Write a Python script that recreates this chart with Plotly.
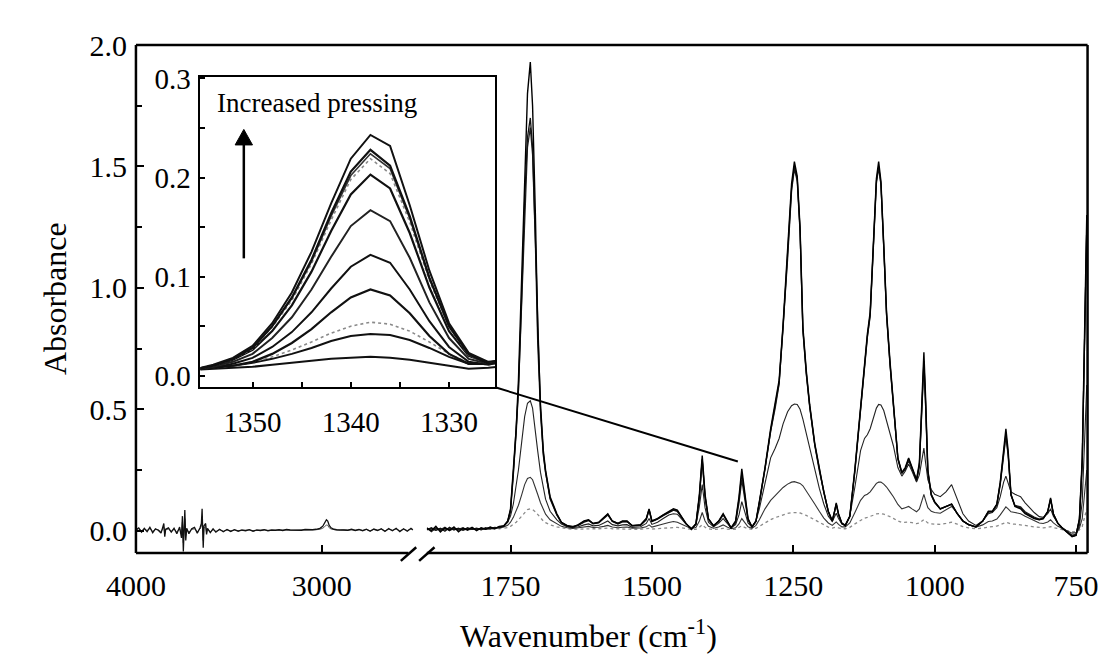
import plotly.graph_objects as go

# ---------------- data ----------------
# left segment of the broken axis (4000 - 2500 cm-1)
WN_L = [4000, 3985, 3970, 3955, 3940, 3925, 3910, 3895, 3880, 3865,
        3850, 3845, 3840, 3825, 3810, 3795, 3780, 3765, 3755, 3750,
        3745, 3737, 3732, 3727, 3715, 3700, 3685, 3670, 3655, 3648,
        3644, 3638, 3634, 3625, 3620, 3615, 3600, 3585, 3570, 3550,
        3530, 3510, 3490, 3470, 3450, 3430, 3410, 3390, 3370, 3350,
        3330, 3310, 3290, 3270, 3250, 3230, 3210, 3190, 3170, 3150,
        3130, 3110, 3090, 3070, 3050, 3030, 3010, 2995, 2985, 2975,
        2968, 2960, 2950, 2935, 2920, 2900, 2880, 2860, 2840, 2820,
        2800, 2780, 2760, 2740, 2720, 2700, 2680, 2660, 2640, 2620,
        2600, 2580, 2560, 2540, 2520, 2510]
LEFT_A = [.004, .012, -.006, .010, -.004, .014, -.008, .008, .002, -.010,
          .030, -.025, .006, .012, -.006, .010, -.012, .015, -.030, .060,
          -.085, .085, -.040, .010, -.012, .008, .014, -.010, .012, .030,
          .090, -.070, .020, .030, -.015, .010, -.008, .008, -.006, .006,
          -.004, .005, -.003, .004, -.002, .003, .000, .004, -.002, .003,
          .001, .004, .000, .003, .002, .004, .001, .005, .003, .002,
          .004, .002, .005, .003, .004, .006, .010, .018, .030, .045,
          .040, .022, .012, .006, .004, .003, .005, .002, .006, .001,
          .005, .000, .006, -.002, .007, .001, .008, -.003, .009, .000,
          .010, -.004, .008, -.002, .010, .004]
LEFT_B = [.002, .008, .000, .006, .001, .009, -.003, .005, .004, -.004,
          .015, -.012, .004, .007, -.002, .006, -.005, .008, -.015, .035,
          -.050, .050, -.020, .006, -.006, .005, .008, -.004, .007, .018,
          .055, -.040, .012, .018, -.008, .006, -.004, .005, -.003, .004,
          -.002, .003, -.001, .003, .000, .002, .001, .003, .000, .002,
          .002, .003, .001, .002, .002, .003, .002, .003, .002, .002,
          .003, .002, .004, .003, .003, .004, .006, .010, .016, .024,
          .022, .012, .007, .004, .003, .002, .004, .002, .004, .002,
          .004, .001, .005, .000, .005, .002, .006, .000, .006, .002,
          .007, .000, .006, .001, .007, .003]

# right segment (1900 - 730 cm-1)
WN_R = [1898, 1890, 1882, 1874, 1866, 1858, 1850, 1842, 1834, 1826,
        1818, 1810, 1802, 1794, 1786, 1778, 1770, 1762, 1755, 1750,
        1745, 1740, 1736, 1730, 1725, 1720, 1715, 1711, 1706, 1702,
        1697, 1692, 1688, 1680, 1668, 1660, 1650, 1640, 1630, 1620,
        1612, 1604, 1594, 1585, 1578, 1570, 1560, 1552, 1544, 1535,
        1520, 1510, 1505, 1500, 1490, 1480, 1470, 1462, 1455, 1448,
        1440, 1430, 1422, 1416, 1411, 1406, 1400, 1391, 1382, 1374,
        1367, 1360, 1352, 1346, 1341, 1336, 1330, 1323, 1316, 1310,
        1304, 1300, 1290, 1282, 1275, 1268, 1260, 1253, 1248, 1243,
        1238, 1233, 1227, 1221, 1212, 1204, 1196, 1188, 1181, 1177,
        1174, 1170, 1164, 1158, 1150, 1141, 1131, 1124, 1119, 1114,
        1108, 1103, 1099, 1095, 1090, 1085, 1079, 1073, 1065, 1058,
        1052, 1046, 1040, 1032, 1027, 1022, 1019, 1016, 1012, 1006,
        1000, 990, 980, 970, 960, 950, 940, 927, 915, 905,
        898, 890, 884, 878, 874, 870, 865, 858, 848, 840,
        832, 824, 815, 808, 800, 795, 790, 782, 774, 765,
        757, 750, 744, 739, 735, 731]
H1 = [.010, .000, .018, -.005, .012, .002, .016, -.004, .010, .004,
      .014, .000, .012, .006, .015, .008, .018, .020, .040, .090,
      .255, .42, .62, 1.05, 1.45, 1.80, 1.93, 1.75, 1.30, .84,
      .52, .33, .25, .14, .07, .035, .020, .015, .025, .040,
      .045, .030, .035, .055, .070, .040, .030, .040, .040, .020,
      .025, .050, .090, .040, .050, .065, .080, .090, .085, .060,
      .030, .005, .030, .150, .310, .150, .050, .020, .040, .070,
      .040, .012, .040, .140, .255, .150, .050, .015, .040, .120,
      .200, .260, .420, .520, .620, .850, 1.150, 1.430, 1.520, 1.460,
      1.250, .840, .660, .520, .360, .255, .160, .080, .040, .080,
      .115, .070, .030, .020, .060, .255, .520, .700, .810, .900,
      1.200, 1.450, 1.520, 1.440, 1.180, .900, .700, .520, .300, .240,
      .260, .300, .260, .210, .280, .550, .735, .550, .250, .150,
      .120, .090, .100, .110, .070, .040, .025, .015, .040, .080,
      .080, .110, .200, .340, .420, .330, .150, .100, .090, .070,
      .060, .050, .045, .050, .080, .135, .070, .030, .010, -.010,
      -.025, -.020, .050, .300, .800, 1.300]
H2 = [.004, .012, .002, .010, -.002, .014, .004, .010, .002, .012,
      .006, .010, .004, .012, .008, .014, .012, .018, .036, .080,
      .230, .40, .58, .98, 1.36, 1.62, 1.70, 1.58, 1.20, .80,
      .50, .32, .24, .135, .065, .035, .022, .018, .022, .035,
      .042, .028, .032, .050, .065, .038, .028, .036, .038, .020,
      .022, .045, .085, .038, .048, .062, .076, .085, .080, .058,
      .030, .008, .028, .140, .295, .140, .048, .020, .038, .066,
      .038, .012, .036, .130, .235, .140, .048, .016, .038, .115,
      .195, .255, .410, .510, .610, .835, 1.130, 1.410, 1.500, 1.450,
      1.240, .830, .650, .515, .355, .250, .158, .078, .040, .078,
      .110, .068, .030, .022, .058, .250, .510, .690, .800, .890,
      1.190, 1.440, 1.500, 1.430, 1.170, .890, .690, .515, .298, .238,
      .255, .295, .255, .208, .270, .520, .700, .525, .245, .148,
      .118, .090, .100, .110, .070, .040, .025, .016, .040, .078,
      .078, .108, .195, .325, .400, .315, .148, .102, .094, .074,
      .062, .052, .046, .050, .078, .130, .068, .030, .010, -.008,
      -.022, -.018, .045, .280, .760, 1.250]
H3 = [.012, -.004, .010, .004, .014, .000, .010, .006, .012, .002,
      .012, .004, .010, .008, .014, .010, .016, .020, .038, .085,
      .240, .40, .58, .97, 1.33, 1.58, 1.66, 1.55, 1.18, .78,
      .49, .31, .24, .13, .065, .033, .018, .014, .024, .038,
      .044, .030, .034, .052, .068, .040, .030, .038, .038, .022,
      .024, .048, .088, .040, .050, .064, .078, .086, .082, .058,
      .030, .006, .028, .140, .290, .140, .048, .020, .038, .066,
      .038, .012, .032, .115, .210, .125, .044, .016, .038, .115,
      .195, .255, .410, .505, .605, .830, 1.120, 1.400, 1.490, 1.440,
      1.230, .825, .645, .510, .352, .248, .156, .078, .040, .076,
      .108, .066, .030, .022, .058, .245, .505, .685, .795, .885,
      1.180, 1.430, 1.495, 1.425, 1.165, .885, .685, .510, .295, .235,
      .252, .290, .252, .205, .265, .510, .690, .515, .240, .146,
      .116, .090, .100, .108, .070, .040, .025, .016, .040, .078,
      .078, .106, .190, .320, .390, .310, .146, .104, .098, .078,
      .066, .056, .048, .052, .078, .128, .068, .030, .010, -.008,
      -.022, -.018, .045, .280, .760, 1.250]
MID = [.008, .003, .012, .000, .010, .004, .012, .002, .009, .004,
       .010, .005, .010, .006, .011, .009, .014, .020, .035, .060,
       .110, .180, .250, .370, .470, .525, .535, .505, .420, .330,
       .240, .170, .130, .080, .045, .028, .016, .012, .016, .024,
       .028, .020, .022, .032, .040, .025, .020, .024, .025, .014,
       .016, .030, .050, .026, .035, .050, .065, .070, .068, .050,
       .028, .010, .025, .100, .190, .095, .035, .016, .030, .050,
       .030, .012, .025, .065, .120, .075, .032, .015, .040, .090,
       .150, .200, .300, .340, .380, .440, .490, .515, .522, .520,
       .500, .460, .400, .340, .250, .175, .110, .060, .038, .058,
       .072, .050, .028, .025, .060, .180, .330, .380, .395, .420,
       .470, .505, .520, .518, .495, .455, .400, .350, .260, .225,
       .245, .275, .245, .200, .230, .300, .340, .280, .210, .170,
       .150, .140, .160, .190, .130, .070, .040, .022, .040, .070,
       .075, .095, .140, .200, .225, .200, .160, .150, .140, .115,
       .095, .075, .058, .055, .070, .090, .060, .030, .012, -.005,
       -.018, -.015, .020, .120, .350, .600]
LOW = [.006, .010, .002, .008, .004, .010, .003, .008, .004, .009,
       .005, .008, .006, .009, .007, .010, .012, .015, .022, .035,
       .055, .080, .105, .150, .190, .215, .220, .210, .180, .150,
       .115, .085, .068, .045, .028, .018, .012, .009, .012, .016,
       .018, .013, .014, .018, .022, .015, .012, .014, .015, .010,
       .011, .016, .024, .015, .020, .028, .034, .038, .035, .028,
       .018, .008, .014, .040, .075, .040, .018, .010, .015, .024,
       .015, .008, .012, .028, .050, .032, .016, .010, .022, .045,
       .070, .090, .125, .145, .160, .178, .192, .200, .202, .200,
       .195, .185, .165, .145, .110, .080, .052, .032, .022, .030,
       .036, .026, .016, .016, .032, .075, .125, .145, .150, .160,
       .180, .195, .200, .200, .192, .180, .160, .140, .108, .090,
       .095, .100, .090, .078, .090, .125, .150, .125, .095, .080,
       .075, .072, .085, .100, .072, .040, .025, .015, .024, .038,
       .040, .048, .065, .088, .098, .090, .078, .075, .070, .060,
       .050, .040, .032, .030, .036, .045, .032, .018, .008, .000,
       -.010, -.008, .010, .050, .140, .250]
GRAY = [.004, .006, .003, .005, .002, .006, .004, .003, .005, .004,
        .006, .004, .005, .006, .005, .007, .008, .010, .013, .018,
        .025, .035, .045, .062, .077, .087, .090, .087, .078, .066,
        .052, .040, .033, .024, .016, .012, .008, .006, .007, .009,
        .010, .008, .008, .010, .011, .008, .007, .008, .008, .006,
        .006, .008, .010, .007, .009, .012, .014, .015, .014, .012,
        .009, .005, .006, .014, .025, .014, .008, .005, .007, .010,
        .007, .005, .006, .012, .020, .014, .008, .006, .010, .018,
        .027, .034, .046, .054, .060, .066, .071, .074, .075, .075,
        .073, .069, .063, .056, .045, .035, .024, .015, .011, .013,
        .015, .012, .008, .008, .014, .028, .044, .052, .055, .058,
        .064, .069, .071, .071, .068, .064, .058, .051, .040, .034,
        .035, .036, .033, .029, .032, .040, .046, .040, .032, .028,
        .027, .026, .030, .035, .027, .017, .012, .008, .011, .016,
        .017, .019, .024, .031, .034, .032, .028, .027, .025, .022,
        .019, .016, .013, .012, .014, .017, .013, .008, .004, .000,
        -.005, -.004, .003, .018, .050, .090]

# inset: zoom on the 1340 cm-1 band
WN_IN = [1356, 1354, 1352, 1350, 1348, 1346, 1344, 1342, 1340, 1338,
         1336, 1334, 1332, 1330, 1328, 1326, 1324]
IN_C1 = [.006, .011, .018, .030, .053, .084, .125, .174, .219, .243, .232, .172, .106, .053, .023, .014, .016]
IN_C2 = [.006, .010, .017, .028, .050, .079, .117, .164, .206, .228, .212, .161, .099, .050, .022, .012, .014]
IN_C3 = [.006, .010, .017, .028, .050, .078, .115, .161, .202, .224, .209, .159, .098, .050, .021, .012, .015]
IN_C4 = [.006, .010, .017, .027, .049, .076, .113, .157, .198, .219, .204, .155, .096, .049, .021, .012, .016]
IN_C5 = [.006, .010, .016, .026, .045, .071, .105, .146, .183, .203, .189, .144, .089, .045, .020, .013, .018]
IN_C6 = [.006, .009, .014, .022, .038, .059, .087, .120, .151, .167, .156, .119, .074, .038, .017, .012, .017]
IN_C7 = [.006, .008, .012, .018, .029, .044, .064, .088, .110, .122, .114, .087, .055, .029, .014, .011, .016]
IN_C8 = [.006, .008, .010, .014, .022, .033, .047, .064, .079, .087, .081, .063, .040, .022, .012, .012, .018]
IN_C9 = [.006, .008, .010, .014, .019, .026, .034, .043, .050, .054, .052, .045, .034, .022, .013, .011, .014]
IN_C10 = [.006, .008, .010, .013, .017, .022, .028, .035, .040, .042, .041, .036, .028, .019, .012, .012, .016]
IN_C11 = [.006, .007, .008, .009, .011, .013, .015, .017, .018, .019, .018, .016, .013, .010, .007, .008, .010]

MAIN_Y_TICKS = [0, 0.5, 1.0, 1.5, 2.0]
LEFT_X_TICKS = [4000, 3000]
RIGHT_X_TICKS = [1750, 1500, 1250, 1000, 750]
INSET_X_TICKS = [1350, 1340, 1330]
INSET_Y_TICKS = [0.0, 0.1, 0.2, 0.3]
LINK_TARGET = (1348, 0.285)   # point on the main spectrum the inset refers to

# ---------------- layout geometry (pixels) ----------------
W, H = 1113, 654
BOX_L, BOX_R, BOX_T, BOX_B = 110, 1098, 30, 554
LEFT_END, RIGHT_START = 400, 412
IN_L, IN_R, IN_T, IN_B = 177, 483, 63, 383
X1_RANGE = [4000, 2497]
X2_RANGE = [1898, 729.6]
Y_RANGE = [-0.092, 2.0]
X3_RANGE = [1355.3, 1325.3]
Y3_RANGE = [-0.0117, 0.3014]

FONT = "Liberation Serif"


def fx(px):
    return px / W


def fy(py):
    return 1 - py / H


def x2_to_px(wn):
    return RIGHT_START + (X2_RANGE[0] - wn) / (X2_RANGE[0] - X2_RANGE[1]) * (BOX_R - RIGHT_START)


def y_to_px(v):
    return BOX_B - (v - Y_RANGE[0]) / (Y_RANGE[1] - Y_RANGE[0]) * (BOX_B - BOX_T)


fig = go.Figure()

# left segment traces
fig.add_trace(go.Scatter(x=WN_L, y=LEFT_B, xaxis="x", yaxis="y", mode="lines",
                         line=dict(color="#555", width=1), hoverinfo="skip", showlegend=False))
fig.add_trace(go.Scatter(x=WN_L, y=LEFT_A, xaxis="x", yaxis="y", mode="lines",
                         line=dict(color="#111", width=1.3), hoverinfo="skip", showlegend=False))

# right segment traces
right_specs = [
    (GRAY, "#8a8a8a", 1.3, "dot"),
    (LOW, "#333", 1.1, "solid"),
    (MID, "#222", 1.1, "solid"),
    (H3, "#222", 1.3, "solid"),
    (H2, "#111", 1.3, "solid"),
    (H1, "#000", 1.4, "solid"),
]
for vals, col, w, dash in right_specs:
    fig.add_trace(go.Scatter(x=WN_R, y=vals, xaxis="x2", yaxis="y", mode="lines",
                             line=dict(color=col, width=w, dash=dash),
                             hoverinfo="skip", showlegend=False))

# inset traces
inset_specs = [
    (IN_C11, "#111", 2.0, "solid"),
    (IN_C10, "#111", 2.0, "solid"),
    (IN_C9, "#8a8a8a", 1.6, "dot"),
    (IN_C8, "#111", 2.2, "solid"),
    (IN_C7, "#111", 2.0, "solid"),
    (IN_C6, "#222", 2.0, "solid"),
    (IN_C5, "#111", 2.2, "solid"),
    (IN_C4, "#8a8a8a", 1.6, "dot"),
    (IN_C3, "#333", 1.6, "solid"),
    (IN_C2, "#111", 2.2, "solid"),
    (IN_C1, "#111", 2.0, "solid"),
]
for vals, col, w, dash in inset_specs:
    fig.add_trace(go.Scatter(x=WN_IN, y=vals, xaxis="x3", yaxis="y3", mode="lines",
                             line=dict(color=col, width=w, dash=dash),
                             hoverinfo="skip", showlegend=False))

tickfont = dict(family=FONT, size=30, color="black")
inset_font = dict(family=FONT, size=29, color="black")

common_x = dict(showgrid=False, zeroline=False, showline=False, ticks="inside",
                ticklen=8, tickwidth=2, tickcolor="black", tickfont=tickfont,
                ticklabelstandoff=12)

fig.update_layout(
    width=W, height=H,
    margin=dict(l=0, r=0, t=0, b=0),
    paper_bgcolor="white", plot_bgcolor="rgba(0,0,0,0)",
    font=dict(family=FONT, color="black"),
    xaxis=dict(domain=[fx(BOX_L), fx(LEFT_END)], range=X1_RANGE, anchor="y",
               tickvals=LEFT_X_TICKS, ticktext=[str(t) for t in LEFT_X_TICKS], **common_x),
    xaxis2=dict(domain=[fx(RIGHT_START), fx(BOX_R)], range=X2_RANGE, anchor="y",
                tickvals=RIGHT_X_TICKS, ticktext=[str(t) for t in RIGHT_X_TICKS], **common_x),
    yaxis=dict(domain=[fy(BOX_B), fy(BOX_T)], range=Y_RANGE, anchor="x",
               showgrid=False, zeroline=False, showline=False,
               tickvals=MAIN_Y_TICKS, ticktext=[f"{t:.1f}" for t in MAIN_Y_TICKS],
               ticks="inside", ticklen=8, tickwidth=2, tickcolor="black",
               tickfont=tickfont, ticklabelstandoff=8,
               minor=dict(tickvals=[0.25, 0.75, 1.25, 1.75], ticks="inside",
                          ticklen=6, tickwidth=2, tickcolor="black")),
    xaxis3=dict(domain=[fx(IN_L), fx(IN_R)], range=X3_RANGE, anchor="y3",
                showgrid=False, zeroline=False, showline=True, mirror=True,
                linewidth=2, linecolor="black",
                tickvals=INSET_X_TICKS, ticktext=[str(t) for t in INSET_X_TICKS],
                ticks="inside", ticklen=5, tickwidth=1.5, tickcolor="black",
                tickfont=inset_font, ticklabelstandoff=8,
                minor=dict(tickvals=[1345, 1335], ticks="inside", ticklen=5,
                           tickwidth=1.5, tickcolor="black")),
    yaxis3=dict(domain=[fy(IN_B), fy(IN_T)], range=Y3_RANGE, anchor="x3",
                showgrid=False, zeroline=False, showline=True, mirror=True,
                linewidth=2, linecolor="black",
                tickvals=INSET_Y_TICKS, ticktext=[f"{t:.1f}" for t in INSET_Y_TICKS],
                ticks="inside", ticklen=5, tickwidth=1.5, tickcolor="black",
                tickfont=inset_font, ticklabelstandoff=2,
                minor=dict(tickvals=[0.05, 0.15, 0.25], ticks="inside", ticklen=5,
                           tickwidth=1.5, tickcolor="black")),
)

# frame of the main plot with the axis break
LW = 2.5
frame = [
    (BOX_L, BOX_T, BOX_R, BOX_T),
    (BOX_L, BOX_T, BOX_L, BOX_B),
    (BOX_R, BOX_T, BOX_R, BOX_B),
    (BOX_L, BOX_B, 393, BOX_B),
    (412, BOX_B, BOX_R, BOX_B),
    (385, 562, 401, 548),
    (404, 562, 420, 548),
]
shapes = []
for x0, y0, x1, y1 in frame:
    shapes.append(dict(type="line", xref="paper", yref="paper",
                       x0=fx(x0), y0=fy(y0), x1=fx(x1), y1=fy(y1),
                       line=dict(color="black", width=LW), layer="above"))
# connector from inset corner to the 1340 band
shapes.append(dict(type="line", xref="paper", yref="paper",
                   x0=fx(IN_R), y0=fy(IN_B),
                   x1=fx(x2_to_px(LINK_TARGET[0])), y1=fy(y_to_px(LINK_TARGET[1])),
                   line=dict(color="black", width=2), layer="above"))
# "increased pressing" arrow: shaft + filled head
ARROW_X, ARROW_TIP, ARROW_TAIL, HEAD_W, HEAD_H = 222, 117, 250, 9, 16
shapes.append(dict(type="line", xref="paper", yref="paper",
                   x0=fx(ARROW_X), y0=fy(ARROW_TAIL), x1=fx(ARROW_X), y1=fy(ARROW_TIP + HEAD_H - 2),
                   line=dict(color="black", width=2.5), layer="above"))
head_path = "M {:.5f},{:.5f} L {:.5f},{:.5f} L {:.5f},{:.5f} Z".format(
    fx(ARROW_X), fy(ARROW_TIP),
    fx(ARROW_X - HEAD_W), fy(ARROW_TIP + HEAD_H),
    fx(ARROW_X + HEAD_W), fy(ARROW_TIP + HEAD_H))
shapes.append(dict(type="path", xref="paper", yref="paper", path=head_path,
                   fillcolor="black", line=dict(color="black", width=1), layer="above"))
fig.update_layout(shapes=shapes)

annotations = [
    dict(text="Absorbance", xref="paper", yref="paper", x=fx(26), y=fy(292),
         textangle=-90, showarrow=False, font=dict(family=FONT, size=32, color="black"),
         xanchor="center", yanchor="middle"),
    dict(text="Wavenumber (cm<sup>-1</sup>)", xref="paper", yref="paper",
         x=fx(580), y=fy(638), showarrow=False,
         font=dict(family=FONT, size=32, color="black"),
         xanchor="center", yanchor="middle"),
    dict(text="Increased pressing", xref="paper", yref="paper", x=fx(192), y=fy(90),
         showarrow=False, font=dict(family=FONT, size=27, color="black"),
         xanchor="left", yanchor="middle"),
]
fig.update_layout(annotations=annotations)

fig.write_html("out.html")
